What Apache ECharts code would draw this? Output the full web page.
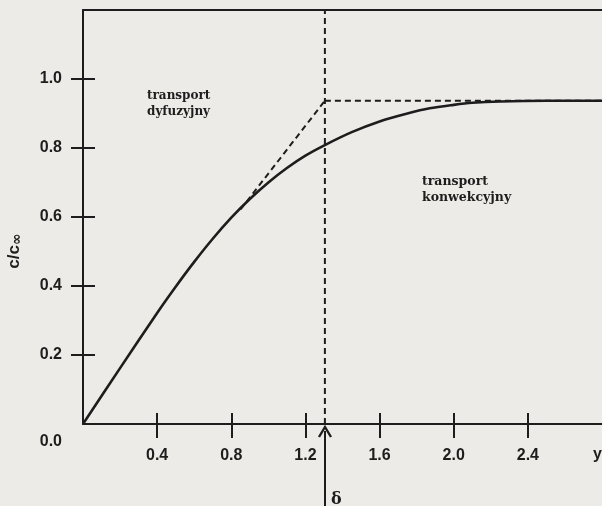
<!DOCTYPE html>
<html>
<head>
<meta charset="utf-8">
<script src="https://cdn.jsdelivr.net/npm/echarts@6/dist/echarts.min.js"></script>
<style>
html,body{margin:0;padding:0;background:#ecebe7;}
#c{width:602px;height:506px;}
</style>
</head>
<body>
<div id="c"></div>
<script>
// Data
var curveX = [0, 0.2, 0.4, 0.5, 0.6, 0.7, 0.8, 0.9, 1.0, 1.1, 1.2, 1.31, 1.45, 1.6, 1.75, 1.87, 2.0, 2.1, 2.25, 2.5, 2.8];
var curveY = [0, 0.162, 0.322, 0.398, 0.47, 0.537, 0.598, 0.652, 0.7, 0.742, 0.778, 0.81, 0.846, 0.877, 0.9, 0.915, 0.925, 0.931, 0.935, 0.937, 0.937];
var tangentX = [0.85, 1.305];
var tangentY = [0.622, 0.937];
var deltaX = 1.305;
var plateauY = 0.937;
var xTicks = [0.4, 0.8, 1.2, 1.6, 2.0, 2.4];
var yTicks = [0.2, 0.4, 0.6, 0.8, 1.0];
var yLabels = [0, 0.2, 0.4, 0.6, 0.8, 1.0];
var xMax = 2.8, yMax = 1.2;

var ink = '#1d1d1d';
function pairs(xs, ys){ return xs.map(function(x,i){ return [x, ys[i]]; }); }

var chart = echarts.init(document.getElementById('c'));
var labelFont = {fontFamily:'Liberation Sans', fontWeight:'bold', fontSize:16, color:ink};
var option = {
  backgroundColor: '#ecebe7',
  animation: false,
  grid: {left:83, top:10, right:0, bottom:82},
  xAxis: [
    {type:'value', min:0, max:xMax, position:'bottom',
     axisLine:{show:true, onZero:false, lineStyle:{color:ink, width:2}},
     axisTick:{show:true, length:14, customValues:xTicks, lineStyle:{color:ink, width:2}},
     axisLabel:Object.assign({margin:24, customValues:xTicks, formatter:function(v){return v.toFixed(1);}}, labelFont),
     splitLine:{show:false}},
    {type:'value', min:0, max:xMax, position:'bottom', gridIndex:0,
     axisLine:{show:false, onZero:false},
     axisTick:{show:true, inside:true, length:11, customValues:xTicks, lineStyle:{color:ink, width:2}},
     axisLabel:{show:false}, splitLine:{show:false}},
    {type:'value', min:0, max:xMax, position:'top',
     axisLine:{show:true, onZero:false, lineStyle:{color:ink, width:2}},
     axisTick:{show:false}, axisLabel:{show:false}, splitLine:{show:false}}
  ],
  yAxis: [
    {type:'value', min:0, max:yMax, position:'left',
     axisLine:{show:true, onZero:false, lineStyle:{color:ink, width:2}},
     axisTick:{show:true, length:12, customValues:yTicks, lineStyle:{color:ink, width:2}},
     axisLabel:Object.assign({margin:21, customValues:yLabels,
       formatter:function(v){ return v===0 ? '{z|0.0}' : v.toFixed(1); },
       rich:{z:{fontFamily:'Liberation Sans', fontWeight:'bold', fontSize:16, color:ink, padding:[36,0,0,0]}}}, labelFont),
     splitLine:{show:false}},
    {type:'value', min:0, max:yMax, position:'left',
     axisLine:{show:false, onZero:false},
     axisTick:{show:true, inside:true, length:12, customValues:yTicks, lineStyle:{color:ink, width:2}},
     axisLabel:{show:false}, splitLine:{show:false}}
  ],
  series: [
    {type:'line', data:pairs(curveX, curveY), smooth:0.3, showSymbol:false,
     lineStyle:{color:ink, width:2.6}},
    {type:'line', data:pairs(tangentX, tangentY), showSymbol:false,
     lineStyle:{color:ink, width:2, type:[6,4]}},
    {type:'line', data:[[deltaX, plateauY],[xMax, plateauY]], showSymbol:false,
     lineStyle:{color:ink, width:2, type:[6,4]}},
    {type:'line', data:[[deltaX, 0],[deltaX, yMax]], showSymbol:false,
     lineStyle:{color:ink, width:2, type:[6,4]}}
  ]
};
chart.setOption(option);

var base = chart.convertToPixel({gridIndex:0}, [deltaX, 0]);
var ax = Math.round(base[0]), ay = base[1] + 3;
chart.setOption({
  graphic: [
    {type:'line', shape:{x1:ax, y1:ay+4, x2:ax, y2:506}, style:{stroke:ink, lineWidth:2}},
    {type:'polyline', shape:{points:[[ax-6, ay+10],[ax, ay],[ax+6, ay+10]]}, style:{stroke:ink, lineWidth:2.4, fill:null}},
    {type:'text', x:ax+6, y:492, style:{text:'δ', fontFamily:'DejaVu Serif', fontWeight:'bold', fontSize:16, fill:ink}},
    {type:'text', x:593, y:447, style:{text:'y', fontFamily:'Liberation Sans', fontWeight:'bold', fontSize:16, fill:ink}},
    {type:'text', x:147, y:88, style:{text:'transport\ndyfuzyjny', fontFamily:'DejaVu Serif', fontWeight:'bold', fontSize:12, lineHeight:16, fill:ink}},
    {type:'text', x:422, y:174, style:{text:'transport\nkonwekcyjny', fontFamily:'DejaVu Serif', fontWeight:'bold', fontSize:12.5, lineHeight:16, fill:ink}},
    {type:'text', x:14, y:251, rotation:Math.PI/2,
     style:{text:'{a|c/c}{b|∞}', align:'center', verticalAlign:'middle',
       rich:{a:{fontFamily:'Liberation Sans', fontWeight:'bold', fontSize:17, fill:ink},
             b:{fontFamily:'DejaVu Sans', fontWeight:'bold', fontSize:14, fill:ink, padding:[6,0,0,0]}}}}
  ]
});
</script>
</body>
</html>
